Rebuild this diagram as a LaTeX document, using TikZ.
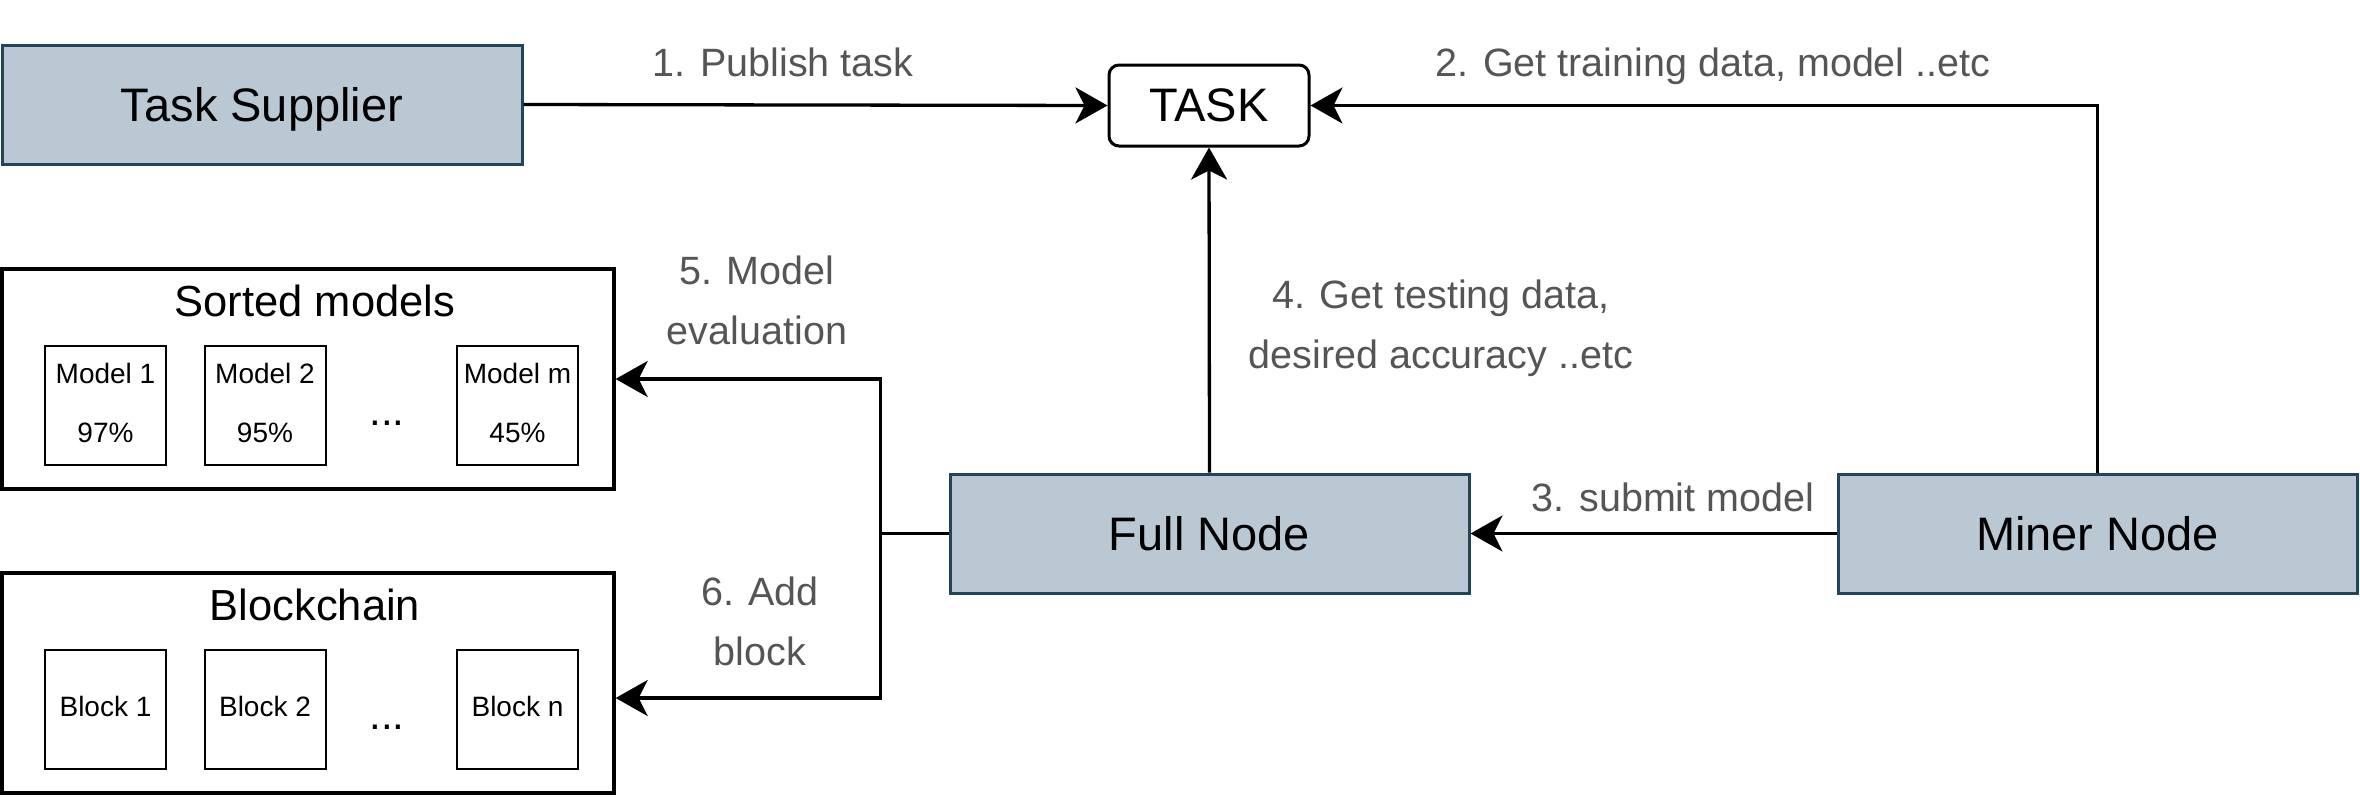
\documentclass[tikz,border=0pt]{standalone}
\usepackage{fontspec}
\setmainfont{Liberation Sans}
\usetikzlibrary{arrows.meta,calc}
\definecolor{bluefill}{HTML}{BAC8D3}
\definecolor{blueline}{HTML}{23445D}
\definecolor{lblgray}{HTML}{555555}
\begin{document}
\begin{tikzpicture}[x=1pt,y=-1pt,
  bluebox/.style={draw=blueline, fill=bluefill, line width=3pt, minimum width=519pt, minimum height=119pt, inner sep=0pt, font=\fontsize{47}{56}\selectfont},
  taskbox/.style={draw=black, line width=3pt, rounded corners=10pt, minimum width=200pt, minimum height=81pt, inner sep=0pt, font=\fontsize{47}{56}\selectfont},
  groupbox/.style={draw=black, line width=3.3pt, minimum width=612pt, minimum height=220pt, inner sep=0pt},
  grouptitle/.style={inner sep=0pt, font=\fontsize{43.5}{52}\selectfont},
  itembox/.style={draw=black, line width=2pt, minimum width=121pt, minimum height=119pt, inner sep=0pt},
  itemtext/.style={inner sep=0pt, font=\fontsize{28}{34}\selectfont},
  dotstext/.style={inner sep=0pt, font=\fontsize{42}{50}\selectfont},
  lbl/.style={inner sep=0pt, text=lblgray, align=center, font=\fontsize{39.5}{60}\selectfont},
  conn/.style={draw=black, line width=3.3pt},
  arr/.style={conn, -{Stealth[length=32pt, width=36pt, inset=9pt]}}
]
\useasboundingbox (0,0) rectangle (2360,796);

% main nodes
\node[bluebox, minimum width=520pt, text depth=0pt] (ts) at (262,104.5) {Task Supplier};
\node[taskbox] (task) at (1209,105.5) {TASK};
\node[bluebox] (full) at (1209.5,533.5) {Full Node};
\node[bluebox] (miner) at (2097.5,533.5) {Miner Node};

% sorted models
\node[groupbox] (sm) at (308,379) {};
\node[grouptitle] (smt) at (315,301) {Sorted models};
\node[itembox] (m1) at (105.5,405.5) {};
\node[itembox] (m2) at (265,405.5) {};
\node[itembox] (mm) at (517.5,405.5) {};
\node[itemtext] (m1a) at (105.5,373) {Model 1};
\node[itemtext] (m1b) at (105.5,433) {97\%};
\node[itemtext] (m2a) at (265,373) {Model 2};
\node[itemtext] (m2b) at (265,433) {95\%};
\node[itemtext] (mma) at (517.5,373) {Model m};
\node[itemtext] (mmb) at (517.5,433) {45\%};
\node[dotstext, anchor=base] (mdots) at (387,425) {...};

% blockchain
\node[groupbox] (bc) at (308,683) {};
\node[grouptitle] (bct) at (315,605) {Blockchain};
\node[itembox] (b1) at (105.5,709.5) {};
\node[itembox] (b2) at (265,709.5) {};
\node[itembox] (bn) at (517.5,709.5) {};
\node[itemtext] (b1a) at (105.5,706) {Block 1};
\node[itemtext] (b2a) at (265,706) {Block 2};
\node[itemtext] (bna) at (517.5,706) {Block n};
\node[dotstext, anchor=base] (bdots) at (387,729) {...};

% connectors
\draw[arr] (ts.east) -- (task.west);
\draw[arr] (miner.north) |- (task.east);
\draw[arr] (full.north) -- (task.south);
\draw[arr] (miner.west) -- (full.east);
\coordinate (j) at ($(full.west)+(-68,0)$);
\draw[conn] (full.west) -- (j);
\draw[arr] (j) |- (sm.east);
\draw[arr] (j) |- ($(bc.east)+(0,15)$);

% labels
\node[lbl] (l1) at (783,62) {1. Publish task};
\node[lbl] (l2) at (1713,66) {2. Get training data, model ..etc};
\node[lbl] (l3) at (1673,497) {3. submit model};
\node[lbl] (l4) at (1441,328.5) {4. Get testing data,\\desired accuracy ..etc};
\node[lbl] (l5) at (757,300.5) {5. Model\\evaluation};
\node[lbl] (l6) at (760,621) {6. Add\\block};
\end{tikzpicture}
\end{document}
